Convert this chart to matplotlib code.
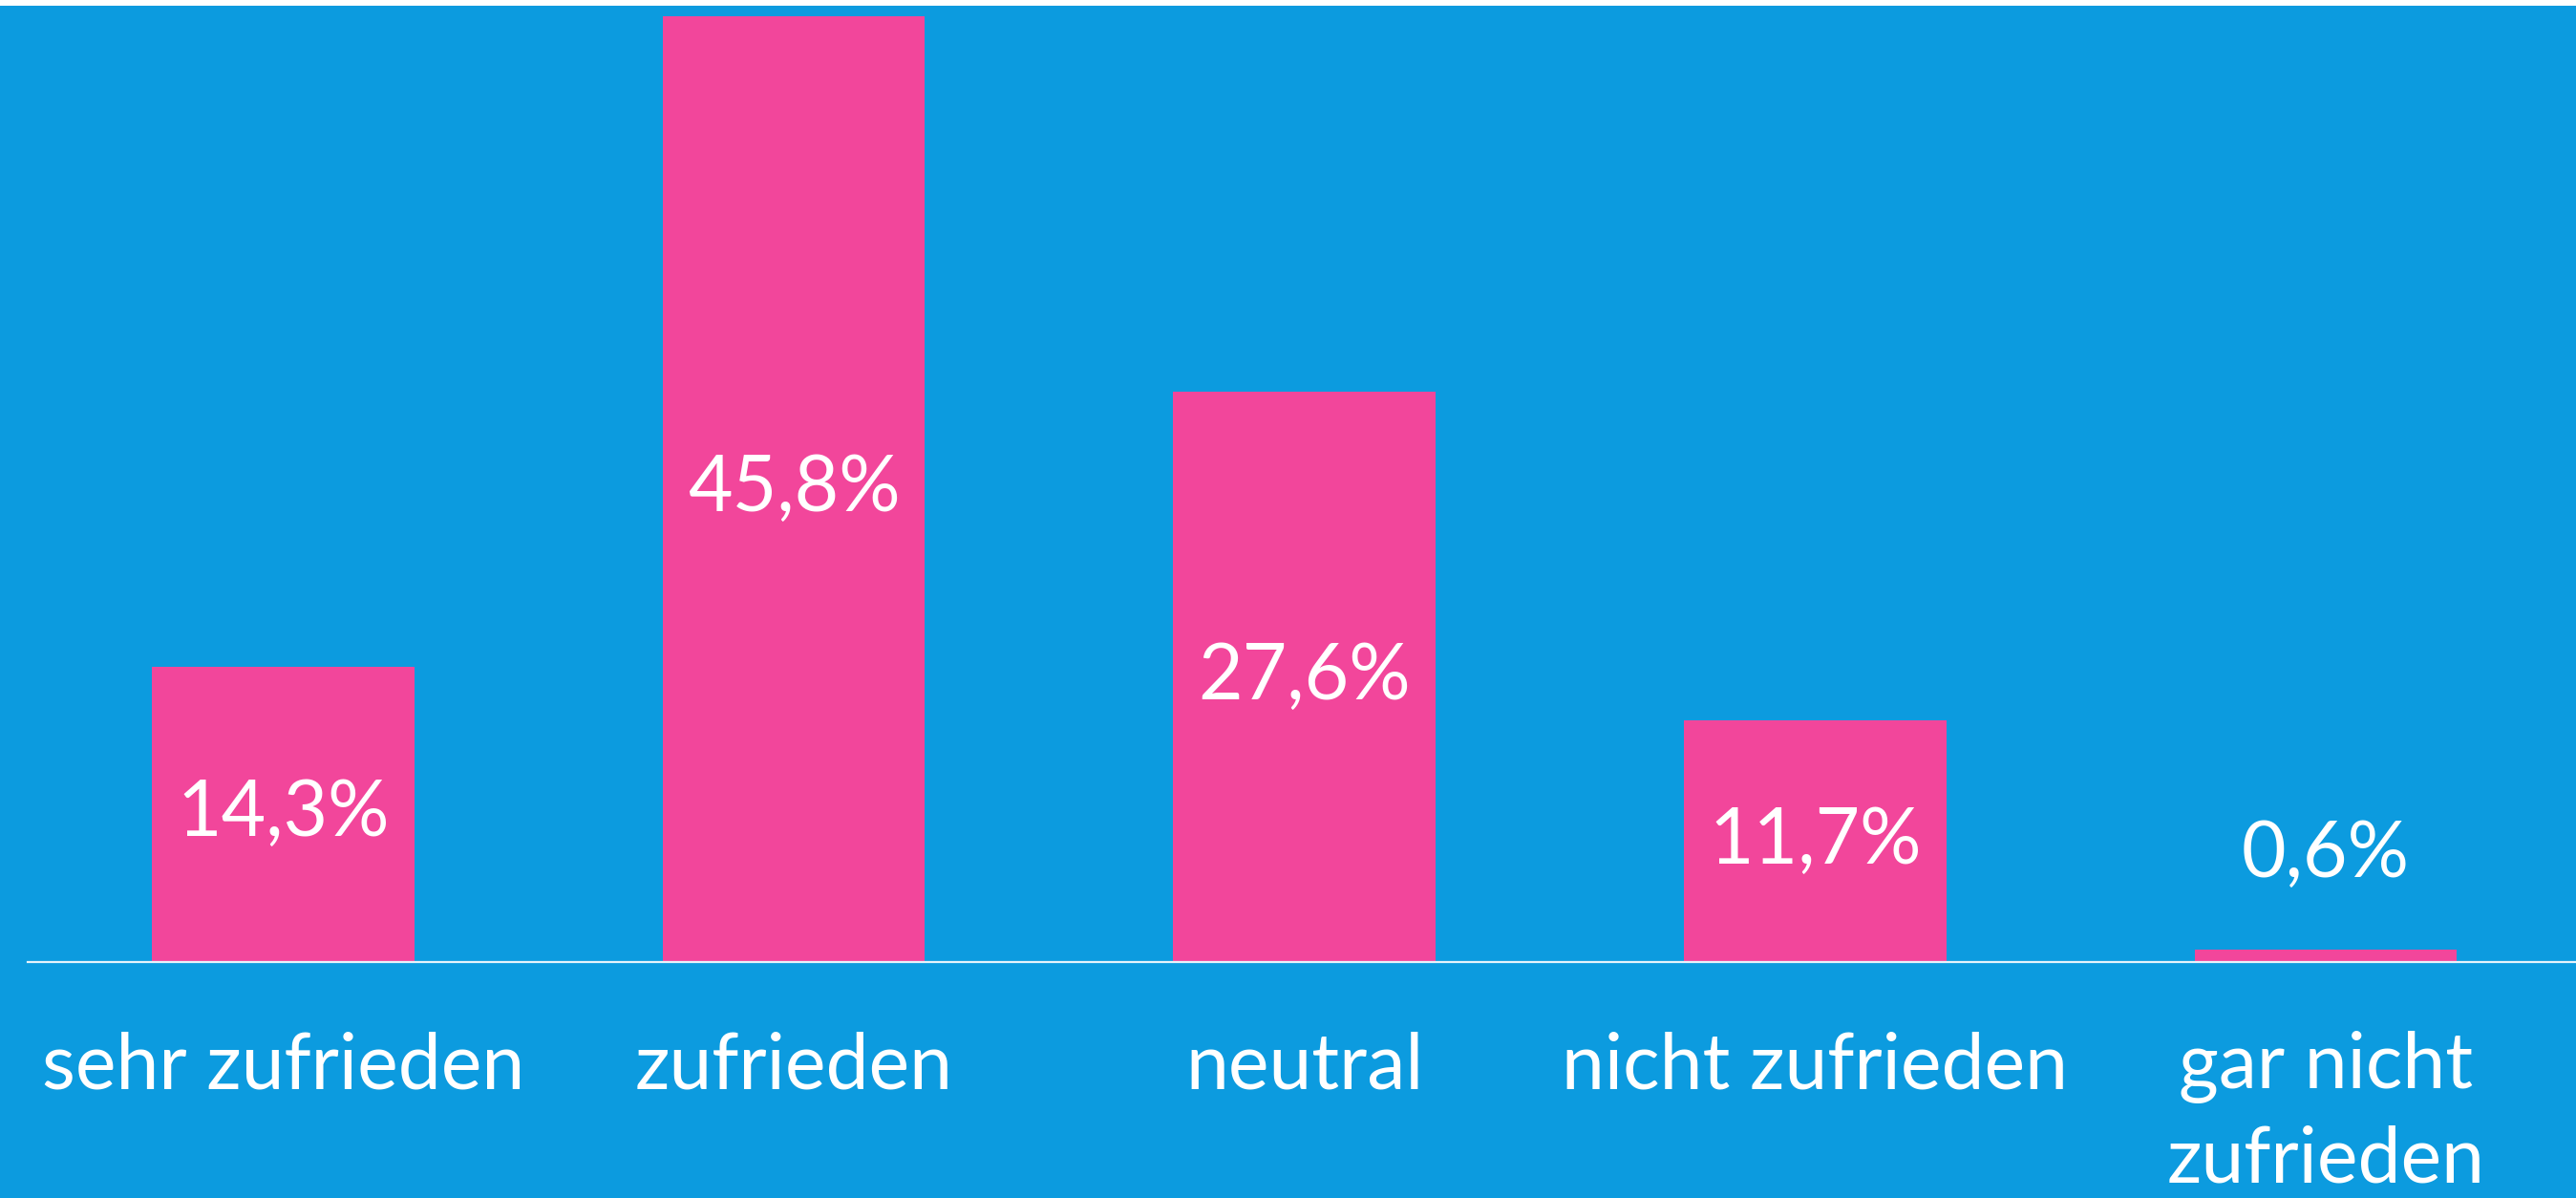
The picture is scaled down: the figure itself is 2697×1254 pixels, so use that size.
import matplotlib
matplotlib.use("Agg")
import matplotlib.pyplot as plt
import matplotlib.transforms as mtransforms
from matplotlib.patches import Rectangle

# Data
categories = ["sehr zufrieden", "zufrieden", "neutral", "nicht zufrieden", "gar nicht\nzufrieden"]
values = [14.3, 45.8, 27.6, 11.7, 0.6]

bg_blue = "#0C9BDF"
bar_pink = "#F2469B"

plt.rcParams['font.family'] = ['Lato', 'DejaVu Sans']

fig = plt.figure(figsize=(26.97, 12.54), dpi=100, facecolor=bg_blue)
# thin white strip along the top edge
fig.patches.append(Rectangle((0, 1 - 6 / 1254), 1, 6 / 1254, transform=fig.transFigure,
                             facecolor="white", edgecolor="none", zorder=0))

ax = fig.add_axes([29 / 2697, 247 / 1254, 1 - 29 / 2697, 1001 / 1254])
ax.set_facecolor(bg_blue)

x = list(range(len(categories)))
ax.bar(x, values, width=0.514, color=bar_pink, zorder=2)

ax.set_xlim(-0.5, 4.49)
ax.set_ylim(0, 1001 / 21.62)

for sp in ["top", "left", "right"]:
    ax.spines[sp].set_visible(False)
ax.spines["bottom"].set_color("#E6F3FB")
ax.spines["bottom"].set_linewidth(1.6)
ax.spines["bottom"].set_zorder(3)
ax.set_yticks([])
ax.set_xticks([])

# value labels
for xi, v in zip(x, values):
    txt = f"{v:.1f}%".replace(".", ",")
    if v > 5:
        ax.text(xi, v / 2, txt, ha="center", va="center", color="white", fontsize=58, zorder=4)
    else:
        ax.text(xi, v + 4.6, txt, ha="center", va="center", color="white", fontsize=58, zorder=4)

# category labels below the axis
trans = mtransforms.blended_transform_factory(ax.transData, ax.transAxes)
for xi, cat in zip(x, categories):
    ax.text(xi, -72 / 1001, cat, transform=trans, ha="center", va="top", color="white",
            fontsize=58, linespacing=1.38)

fig.savefig("out.png", dpi=100, facecolor=fig.get_facecolor())
